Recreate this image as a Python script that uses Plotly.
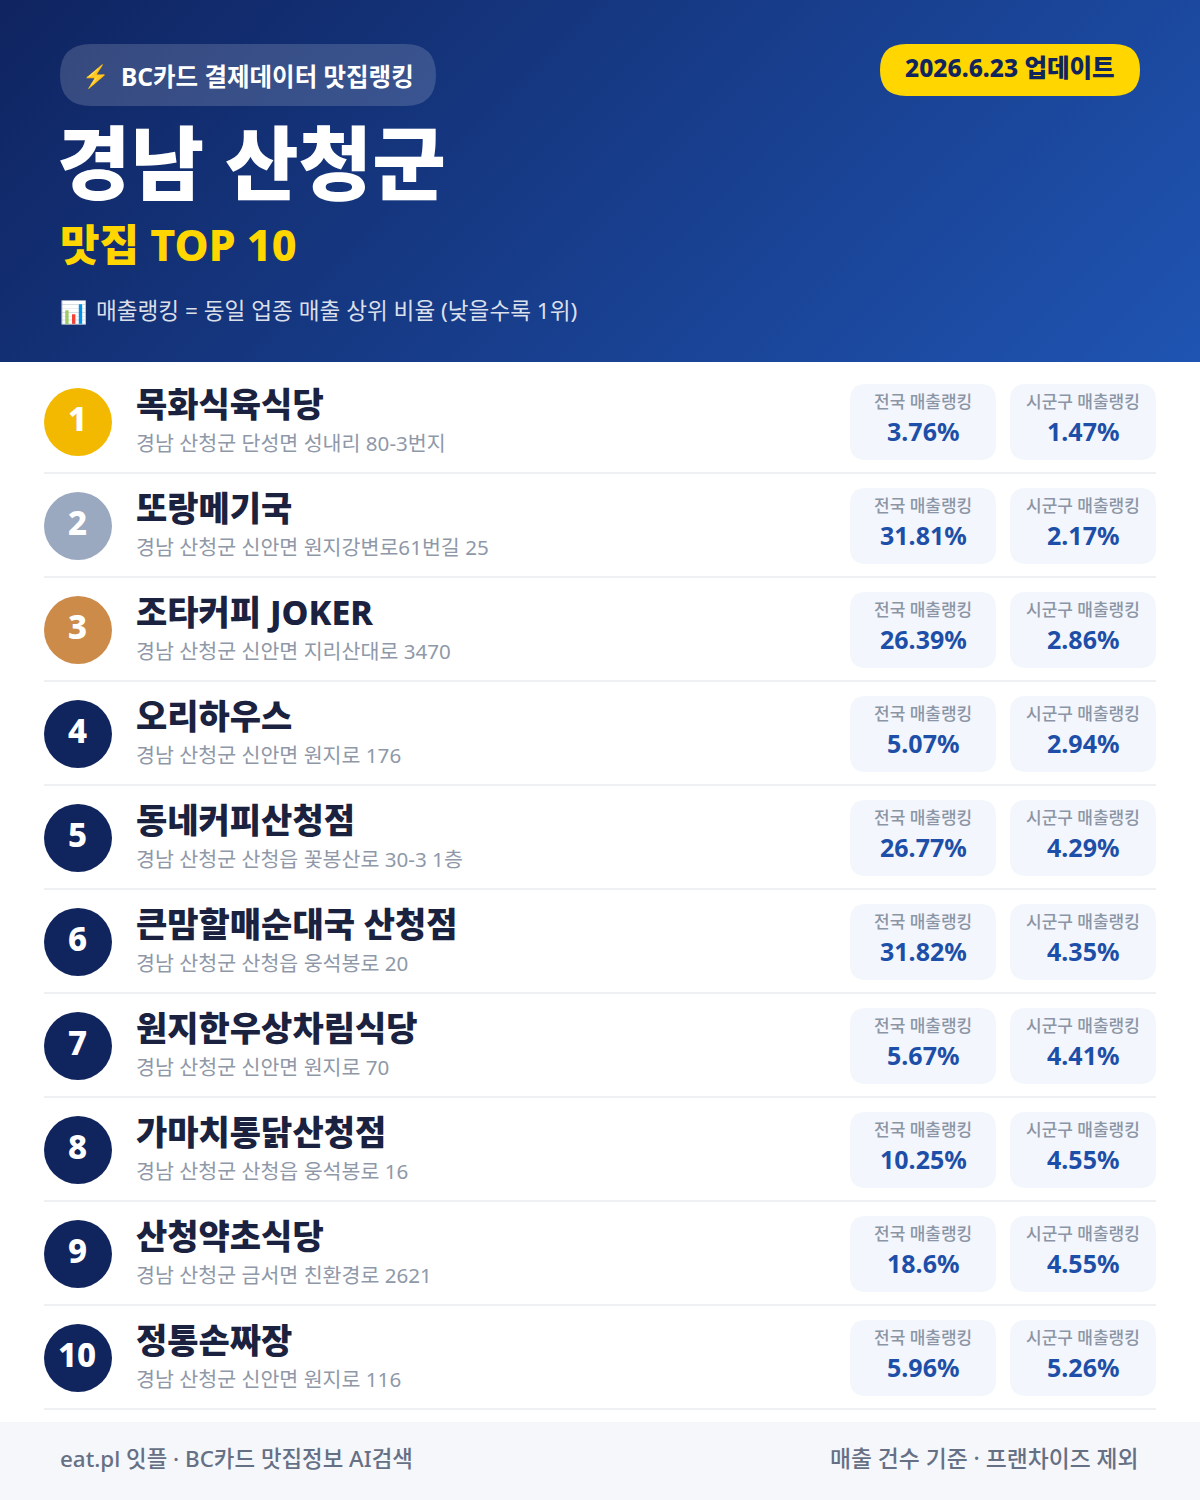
import plotly.graph_objects as go

names = ["목화식육식당", "또랑메기국", "조타커피 JOKER", "오리하우스", "동네커피산청점",
         "큰맘할매순대국 산청점", "원지한우상차림식당", "가마치통닭산청점", "산청약초식당", "정통손짜장"]
addresses = ["경남 산청군 단성면 성내리 80-3번지", "경남 산청군 신안면 원지강변로61번길 25",
             "경남 산청군 신안면 지리산대로 3470", "경남 산청군 신안면 원지로 176",
             "경남 산청군 산청읍 꽃봉산로 30-3 1층", "경남 산청군 산청읍 웅석봉로 20",
             "경남 산청군 신안면 원지로 70", "경남 산청군 산청읍 웅석봉로 16",
             "경남 산청군 금서면 친환경로 2621", "경남 산청군 신안면 원지로 116"]
national_rank = [3.76, 31.81, 26.39, 5.07, 26.77, 31.82, 5.67, 10.25, 18.6, 5.96]
district_rank = [1.47, 2.17, 2.86, 2.94, 4.29, 4.35, 4.41, 4.55, 4.55, 5.26]
ranks = list(range(1, 11))
rank_colors = ["#f2b900", "#9aa8c0", "#cd8b4a"] + ["#10245e"] * 7

FONT = "Noto Sans, Noto Sans CJK KR"
ROW_H = 104
GRADIENT = ("data:image/svg+xml;utf8,<svg xmlns='http://www.w3.org/2000/svg' width='1200' height='362'>"
            "<defs><linearGradient id='g' gradientUnits='userSpaceOnUse' x1='210' y1='-209' x2='990' y2='571'>"
            "<stop offset='0' stop-color='%230f2460'/><stop offset='1' stop-color='%231f54b2'/>"
            "</linearGradient></defs><rect width='1200' height='362' fill='url(%23g)'/></svg>")


def round_rect(x0, y0, x1, y1, r, fill):
    path = (f"M{x0+r},{y0} L{x1-r},{y0} Q{x1},{y0} {x1},{y0+r} L{x1},{y1-r} Q{x1},{y1} {x1-r},{y1} "
            f"L{x0+r},{y1} Q{x0},{y1} {x0},{y1-r} L{x0},{y0+r} Q{x0},{y0} {x0+r},{y0} Z")
    return dict(type="path", path=path, fillcolor=fill, line=dict(width=0), layer="above")


def label(x, y, text, size, color, weight=400, anchor="left"):
    return dict(x=x, y=y, text=text, xref="x", yref="y", showarrow=False, xanchor=anchor, yanchor="middle",
                borderpad=0, font=dict(family=FONT, size=size, color=color, weight=weight))


shapes = [
    round_rect(60, 44, 436, 106, 31, "rgba(255,255,255,0.16)"),
    round_rect(880, 44, 1140, 96, 26, "#ffd600"),
    dict(type="rect", x0=0, x1=1200, y0=1422, y1=1500, fillcolor="#f5f7fb", line=dict(width=0), layer="above"),
]
annotations = [
    label(81, 75, "⚡", 22, "#ffd600"),
    label(120, 76, "BC카드 결제데이터 맛집랭킹", 24.5, "#ffffff", 700),
    label(1010, 67, "2026.6.23 업데이트", 24.5, "#10245e", 800, "center"),
    label(56, 161, "경남 산청군", 80, "#ffffff", 900),
    label(59, 244, "맛집 TOP 10", 43, "#ffd600", 800),
    label(59, 311, "📊", 22, "#ffffff"),
    label(95, 310, "매출랭킹 = 동일 업종 매출 상위 비율 (낮을수록 1위)", 22.6, "rgba(255,255,255,0.85)"),
    label(59, 1458, "eat.pl 잇플 · BC카드 맛집정보 AI검색", 22.4, "#667085", 500),
    label(1140, 1458, "매출 건수 기준 · 프랜차이즈 제외", 22.8, "#667085", 500, "right"),
]

for i in range(len(names)):
    top = ROW_H * i
    shapes.append(round_rect(850, 384 + top, 996, 460 + top, 16, "#f3f6fc"))
    shapes.append(round_rect(1010, 384 + top, 1156, 460 + top, 16, "#f3f6fc"))
    shapes.append(dict(type="line", x0=44, x1=1156, y0=473 + top, y1=473 + top,
                       line=dict(color="#eef0f4", width=2), layer="above"))
    annotations += [
        label(77, 418 + top, str(ranks[i]), 33, "#ffffff", 800, "center"),
        label(135, 404 + top, names[i], 34, "#1a2240", 800),
        label(135, 443 + top, addresses[i], 20.6, "#8f98a8"),
        label(923, 401 + top, "전국 매출랭킹", 17, "#8b95a5", 500, "center"),
        label(1083, 401 + top, "시군구 매출랭킹", 17, "#8b95a5", 500, "center"),
        label(923, 431 + top, f"{national_rank[i]:g}%", 25, "#1e4fa8", 700, "center"),
        label(1083, 431 + top, f"{district_rank[i]:g}%", 25, "#1e4fa8", 700, "center"),
    ]

fig = go.Figure(go.Scatter(
    x=[78] * len(ranks),
    y=[422 + ROW_H * i for i in range(len(ranks))],
    mode="markers",
    marker=dict(size=68, color=rank_colors, line=dict(width=0)),
    hoverinfo="skip",
    showlegend=False,
))
fig.update_layout(
    width=1200, height=1500,
    margin=dict(l=0, r=0, t=0, b=0, pad=0),
    paper_bgcolor="#ffffff", plot_bgcolor="#ffffff",
    xaxis=dict(range=[0, 1200], visible=False, fixedrange=True),
    yaxis=dict(range=[1500, 0], visible=False, fixedrange=True),
    shapes=shapes, annotations=annotations,
    images=[dict(source=GRADIENT, xref="x", yref="y", x=0, y=0, sizex=1200, sizey=362,
                 sizing="stretch", xanchor="left", yanchor="top", layer="below")],
)
fig.write_html("out.html", post_script="document.body.style.margin='0';",
               config=dict(displayModeBar=False))
